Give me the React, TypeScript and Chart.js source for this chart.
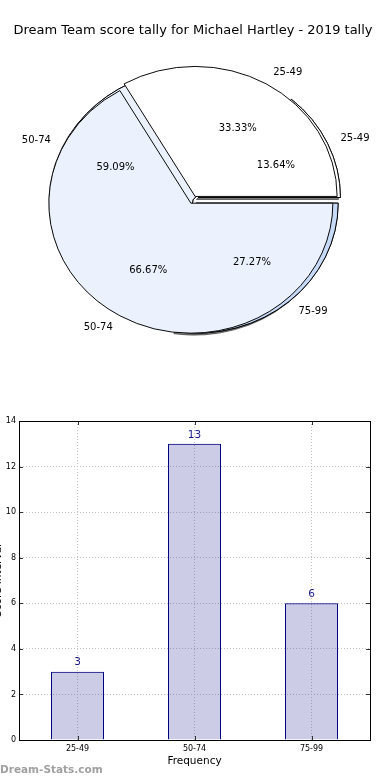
import React, { useEffect, useRef } from 'react';
import { Chart, registerables } from 'chart.js';

Chart.register(...registerables);

// ---- data ----
const chartTitle = 'Dream Team score tally for Michael Hartley - 2019 tally';
const scoreBands = ['25-49', '50-74', '75-99'];
const bandCounts = [3, 13, 6];
const overlayBands = ['25-49', '50-74'];
const overlayCounts = [1, 2];
const yTickValues = [0, 2, 4, 6, 8, 10, 12, 14];
const xAxisTitle = 'Frequency';
const yAxisTitle = 'Score Interval';
const watermarkText = 'Dream-Stats.com';

// ---- styles ----
const bandColors = ['#ffffff', '#ebf2fe', '#c7daf8'];
const bandExplode = [0.042, 0, 0.034];
const overlayColors = ['#ffffff', '#ebf2fe'];
const overlayExplode = [0.03, 0.03];
const FONT = '"DejaVu Sans", sans-serif';
const PIE_R = 142;
const PIE_SY = 130 / 142;

function rev<T>(a: T[]): T[] {
  return a.slice().reverse();
}

const piePlugin = {
  id: 'mplPie',
  afterDatasetUpdate(chart: any, args: any) {
    const ds: any = chart.data.datasets[args.index];
    args.meta.data.forEach((arc: any, i: number) => {
      const mid = (arc.startAngle + arc.endAngle) / 2;
      const d = (ds.explode[i] || 0) * PIE_R;
      arc.innerRadius = 0;
      arc.outerRadius = PIE_R;
      arc.x = arc.x + Math.cos(mid) * d;
      arc.y = arc.y + Math.sin(mid) * d;
    });
  },
  beforeDatasetsDraw(chart: any) {
    const { ctx, chartArea: a } = chart;
    const cx = (a.left + a.right) / 2;
    const cy = (a.top + a.bottom) / 2;
    ctx.save();
    ctx.translate(cx, cy);
    ctx.scale(1, PIE_SY);
    ctx.translate(-cx, -cy);
  },
  beforeDatasetDraw(chart: any, args: any) {
    if (args.index === 1) {
      // shadow pass underneath the lower pie
      const ctx = chart.ctx;
      ctx.save();
      ctx.shadowColor = 'rgba(0,0,0,0.5)';
      ctx.shadowOffsetX = -2;
      ctx.shadowOffsetY = 2;
      ctx.shadowBlur = 0;
      args.meta.data.forEach((arc: any) => arc.draw(ctx));
      ctx.restore();
    }
  },
  afterDatasetsDraw(chart: any) {
    const { ctx, chartArea: a } = chart;
    ctx.restore();
    const cy0 = (a.top + a.bottom) / 2;
    ctx.save();
    ctx.fillStyle = '#000';
    ctx.font = '10px ' + FONT;
    ctx.textBaseline = 'middle';
    chart.data.datasets.forEach((ds: any, di: number) => {
      const meta = chart.getDatasetMeta(di);
      const total = ds.data.reduce((s: number, v: number) => s + v, 0);
      meta.data.forEach((arc: any, i: number) => {
        const mid = (arc.startAngle + arc.endAngle) / 2;
        const c = Math.cos(mid);
        const s = Math.sin(mid);
        const px = (k: number) => arc.x + c * k * arc.outerRadius;
        const py = (k: number) => cy0 + (arc.y - cy0 + s * k * arc.outerRadius) * PIE_SY;
        ctx.textAlign = c > 0 ? 'left' : 'right';
        ctx.fillText(ds.sliceLabels[i], px(1.1), py(1.1));
        ctx.textAlign = 'center';
        ctx.fillText(((ds.data[i] / total) * 100).toFixed(2) + '%', px(0.6), py(0.6));
      });
    });
    ctx.restore();
  },
};

const barPlugin = {
  id: 'mplBar',
  afterDraw(chart: any) {
    const { ctx, chartArea: a } = chart;
    const xs = chart.scales.x;
    const ys = chart.scales.y;
    ctx.save();
    // inward tick marks
    ctx.strokeStyle = '#333';
    ctx.lineWidth = 1;
    ctx.beginPath();
    yTickValues.forEach((v) => {
      const y = Math.round(ys.getPixelForValue(v)) + 0.5;
      ctx.moveTo(a.left, y);
      ctx.lineTo(a.left + 4, y);
      ctx.moveTo(a.right, y);
      ctx.lineTo(a.right - 4, y);
    });
    scoreBands.forEach((_, i) => {
      const x = Math.round(xs.getPixelForValue(i)) + 0.5;
      ctx.moveTo(x, a.bottom);
      ctx.lineTo(x, a.bottom - 4);
      ctx.moveTo(x, a.top);
      ctx.lineTo(x, a.top + 4);
    });
    ctx.stroke();
    // frame
    ctx.strokeStyle = '#000';
    ctx.strokeRect(Math.round(a.left) + 0.5, Math.round(a.top) + 0.5, Math.round(a.right - a.left), Math.round(a.bottom - a.top));
    // value labels
    const meta = chart.getDatasetMeta(0);
    ctx.fillStyle = '#1a1a8c';
    ctx.font = '10.5px ' + FONT;
    ctx.textAlign = 'center';
    ctx.textBaseline = 'middle';
    meta.data.forEach((bar: any, i: number) => {
      ctx.fillText(String(bandCounts[i]), bar.x, bar.y - 9);
    });
    // y axis title (cut off at left edge)
    ctx.save();
    ctx.translate(0.5, (a.top + a.bottom) / 2);
    ctx.rotate(-Math.PI / 2);
    ctx.fillStyle = '#000';
    ctx.font = '10.5px ' + FONT;
    ctx.textAlign = 'center';
    ctx.textBaseline = 'alphabetic';
    ctx.fillText(yAxisTitle, 0, 0);
    ctx.restore();
    // watermark
    ctx.fillStyle = '#a0a0a0';
    ctx.font = 'bold 10.5px ' + FONT;
    ctx.textAlign = 'left';
    ctx.textBaseline = 'middle';
    ctx.fillText(watermarkText, 0, chart.height - 10);
    ctx.restore();
  },
};

export default function App() {
  const pieRef = useRef<HTMLCanvasElement>(null);
  const barRef = useRef<HTMLCanvasElement>(null);

  useEffect(() => {
    const pie = new Chart(pieRef.current as HTMLCanvasElement, {
      type: 'pie',
      data: {
        labels: rev(scoreBands),
        datasets: [
          {
            data: rev(overlayCounts),
            sliceLabels: rev(overlayBands),
            backgroundColor: rev(overlayColors),
            explode: rev(overlayExplode),
            borderColor: '#000',
            borderWidth: 1,
          } as any,
          {
            data: rev(bandCounts),
            sliceLabels: rev(scoreBands),
            backgroundColor: rev(bandColors),
            explode: rev(bandExplode),
            borderColor: '#000',
            borderWidth: 1,
          } as any,
        ],
      },
      options: {
        responsive: false,
        animation: false,
        rotation: 90,
        layout: { padding: { left: 0, right: 4, top: 0, bottom: 39 } },
        plugins: {
          legend: { display: false },
          tooltip: { enabled: false },
          title: {
            display: true,
            text: chartTitle,
            color: '#000',
            font: { family: FONT, size: 13, weight: 'normal' },
            padding: { top: 23, bottom: 0 },
          },
        },
      } as any,
      plugins: [piePlugin],
    });

    const gridCfg = { color: '#c2c2c2', drawTicks: false };
    const borderCfg = { display: true, color: '#000', dash: [1, 2] };
    const bar = new Chart(barRef.current as HTMLCanvasElement, {
      type: 'bar',
      data: {
        labels: scoreBands,
        datasets: [
          {
            data: bandCounts,
            backgroundColor: 'rgba(0,0,128,0.2)',
            borderColor: '#000080',
            borderWidth: 1,
            barPercentage: 0.453,
            categoryPercentage: 1,
          },
        ],
      },
      options: {
        responsive: false,
        animation: false,
        layout: { padding: { left: 0, right: 20, top: 21, bottom: 0 } },
        plugins: { legend: { display: false }, tooltip: { enabled: false } },
        scales: {
          x: {
            offset: true,
            grid: { ...gridCfg, offset: false },
            border: borderCfg,
            ticks: { color: '#000', font: { family: FONT, size: 8 }, padding: 4 },
            title: {
              display: true,
              text: xAxisTitle,
              color: '#000',
              font: { family: FONT, size: 10.5 },
              padding: { top: 0, bottom: 12.7 },
            },
            afterFit: (s: any) => {
              s.height = 40;
            },
          },
          y: {
            min: 0,
            max: 14,
            grid: gridCfg,
            border: borderCfg,
            afterBuildTicks: (s: any) => {
              s.ticks = yTickValues.map((v) => ({ value: v }));
            },
            ticks: { color: '#000', font: { family: FONT, size: 8 }, padding: 3 },
            afterFit: (s: any) => {
              s.width = 19;
            },
          },
        },
      } as any,
      plugins: [barPlugin],
    });

    return () => {
      pie.destroy();
      bar.destroy();
    };
  }, []);

  return (
    <div style={{ position: 'absolute', left: 0, top: 0, width: 390, height: 780, background: '#fff' }}>
      <canvas ref={pieRef} width={390} height={400} style={{ position: 'absolute', left: 0, top: 0 }} />
      <canvas ref={barRef} width={390} height={380} style={{ position: 'absolute', left: 0, top: 400 }} />
    </div>
  );
}
